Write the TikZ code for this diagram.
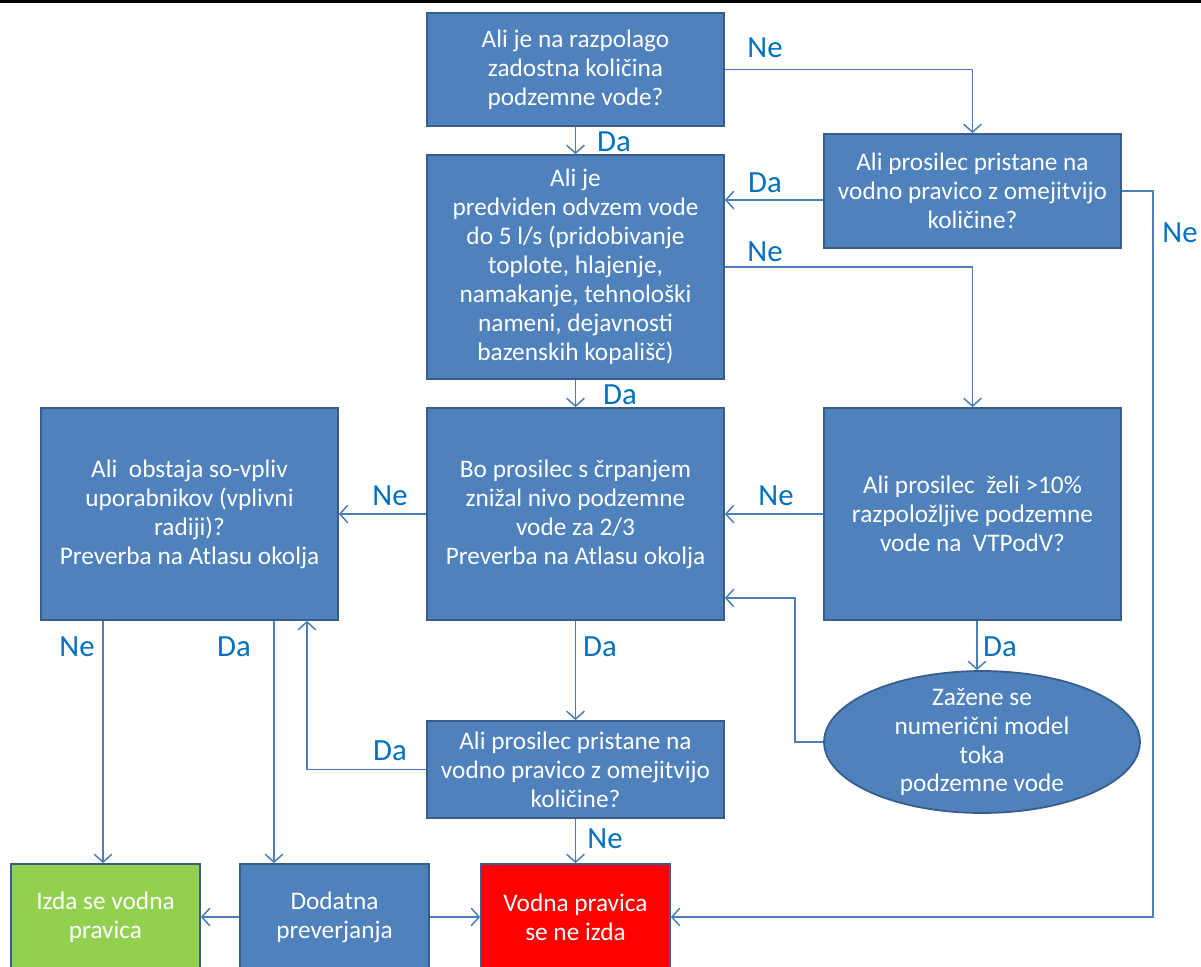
\documentclass[tikz,border=0pt]{standalone}
\usepackage{fontspec}
\setmainfont{Carlito}
\usetikzlibrary{arrows.meta,shapes.geometric}
\definecolor{boxblue}{HTML}{4F81BD}
\definecolor{boxline}{HTML}{385D8A}
\definecolor{arrline}{HTML}{4A7EBB}
\definecolor{lblblue}{HTML}{0070C0}
\definecolor{okgreen}{HTML}{92D050}
\definecolor{nored}{HTML}{FF0000}

\begin{document}
\begin{tikzpicture}[x=0.02cm,y=-0.02cm,
	qbox/.style={draw=boxline,line width=1pt,fill=boxblue,text=white,align=center,
		font=\fontsize{14.4}{16.5}\selectfont,inner sep=2pt,minimum width=5.94cm},
	endbox/.style={qbox,minimum width=3.78cm,minimum height=2.12cm},
	arr/.style={draw=arrline,line width=0.85pt,-{Straight Barb[length=4.5pt,width=10pt]}},
	lbl/.style={text=lblblue,font=\fontsize{17.5}{20}\selectfont,inner sep=0pt}]
\useasboundingbox (0,0) rectangle (1201,967);
\clip (0,0) rectangle (1201,967);
\fill[black] (0,0) rectangle (1201,3);
% questions
\node[qbox,minimum height=2.26cm] (A) at (575.5,69.5) {Ali je na razpolago\\zadostna količina\\podzemne vode?};
\node[qbox,minimum height=2.28cm] (B) at (972.5,191) {Ali prosilec pristane na\\vodno pravico z omejitvijo\\količine?};
\node[qbox,minimum height=4.48cm] (C) at (575.5,267) {Ali je\\predviden odvzem vode\\do 5 l/s (pridobivanje\\toplote, hlajenje,\\namakanje, tehnološki\\nameni, dejavnosti\\bazenskih kopališč)};
\node[qbox,minimum height=4.24cm] (E) at (575.5,514) {Bo prosilec s črpanjem\\znižal nivo podzemne\\vode za 2/3\\Preverba na Atlasu okolja};
\node[qbox,minimum height=4.24cm] (D) at (972.5,514) {Ali prosilec\ \ želi >10\%\\razpoložljive podzemne\\vode na\ \ VTPodV?};
\node[qbox,minimum height=4.24cm] (F) at (189.5,514) {Ali\ \ obstaja so-vpliv\\uporabnikov (vplivni\\radiji)?\\Preverba na Atlasu okolja};
\node[ellipse,draw=boxline,line width=1pt,fill=boxblue,minimum width=6.32cm,minimum height=2.84cm] (G) at (982,742) {};
\node[text=white,align=center,font=\fontsize{14.4}{16.5}\selectfont] (Gtext) at (G) {Zažene se\\numerični model\\toka\\podzemne vode};
\node[qbox,minimum height=1.94cm] (H) at (575.5,769.5) {Ali prosilec pristane na\\vodno pravico z omejitvijo\\količine?};
% outcomes
\node[endbox,fill=okgreen] (Green) at (105.5,917) {Izda se vodna\\pravica};
\node[endbox] (Dod) at (334.5,917) {Dodatna\\preverjanja};
\node[endbox,fill=nored] (Red) at (575.5,917) {Vodna pravica\\se ne izda};
% connectors
\draw[arr] (A.east) -| (B.north);
\draw[arr] (A.south) -- (C.north);
\coordinate (b1) at ([yshift=-0.18cm]B.west);
\draw[arr] (b1) -- (b1 -| C.east);
\draw[arr] (C.east) -| (D.north);
\draw[arr] (C.south) -- (E.north);
\draw[arr] (B.east) -- ++(31,0) |- (Red.east);
\draw[arr] (D.west) -- (E.east);
\draw[arr] (E.west) -- (F.east);
\coordinate (d1) at ([xshift=0.09cm]D.south);
\draw[arr] (d1) -- (d1 |- G.north);
\coordinate (e1) at ([yshift=-1.68cm]E.east);
\draw[arr] (G.west) -- ++(-28,0) |- (e1);
\draw[arr] (E.south) -- (H.north);
\coordinate (f3) at ([xshift=2.35cm]F.south);
\draw[arr] (H.west) -| (f3);
\draw[arr] (H.south) -- (Red.north);
\coordinate (f1) at ([xshift=-1.73cm]F.south);
\coordinate (f2) at ([xshift=1.69cm]F.south);
\draw[arr] (f1) -- (f1 |- Green.north);
\draw[arr] (f2) -- (f2 |- Dod.north);
\draw[arr] (Dod.west) -- (Green.east);
\draw[arr] (Dod.east) -- (Red.west);
% labels
\node[lbl] (l1) at (765,48) {Ne};
\node[lbl] (l2) at (614,142) {Da};
\node[lbl] (l3) at (765,183) {Da};
\node[lbl] (l4) at (765,252) {Ne};
\node[lbl] (l5) at (1180,233) {Ne};
\node[lbl] (l6) at (620,395) {Da};
\node[lbl] (l7) at (776,496) {Ne};
\node[lbl] (l8) at (390,496) {Ne};
\node[lbl] (l9) at (1000,647) {Da};
\node[lbl] (l10) at (600,647) {Da};
\node[lbl] (l11) at (77,647) {Ne};
\node[lbl] (l12) at (234,647) {Da};
\node[lbl] (l13) at (390,751) {Da};
\node[lbl] (l14) at (605,839) {Ne};
\end{tikzpicture}
\end{document}
